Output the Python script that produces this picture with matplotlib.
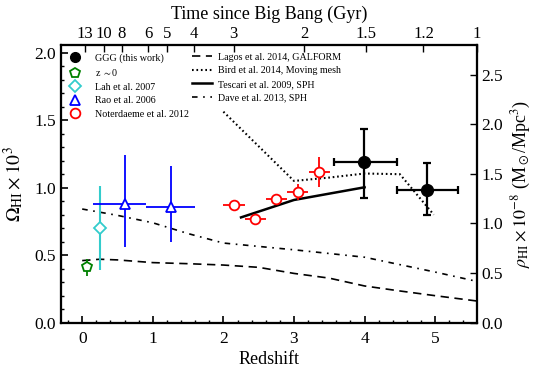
import numpy as np
import matplotlib
matplotlib.use("Agg")
import matplotlib.pyplot as plt
from matplotlib.lines import Line2D
from matplotlib.ticker import MultipleLocator

plt.rcParams['font.family'] = 'serif'
plt.rcParams['font.serif'] = ['Liberation Serif', 'DejaVu Serif']
plt.rcParams['mathtext.fontset'] = 'stix'
plt.rcParams['lines.scale_dashes'] = False

# ---------------- data ----------------
# GGG (this work)
ggg_z = [3.99, 4.88]
ggg_omega = [1.19, 0.98]
ggg_zlo = [0.43, 0.42]
ggg_zhi = [0.47, 0.44]
ggg_elo = [0.27, 0.18]
ggg_ehi = [0.245, 0.20]

# z ~ 0
z0_z = [0.07]
z0_omega = [0.415]
z0_elo = [0.07]
z0_ehi = [0.06]

# Lah et al. 2007
lah_z = [0.25]
lah_omega = [0.70]
lah_err = [0.31]

# Rao et al. 2006
rao_z = [0.61, 1.26]
rao_omega = [0.88, 0.855]
rao_zlo = [0.455, 0.35]
rao_zhi = [0.29, 0.34]
rao_elo = [0.32, 0.257]
rao_ehi = [0.36, 0.305]

# Noterdaeme et al. 2012
not_z = [2.15, 2.45, 2.75, 3.05, 3.36]
not_omega = [0.872, 0.766, 0.914, 0.968, 1.114]
not_zerr = [0.15, 0.15, 0.15, 0.15, 0.15]
not_err = [0.025, 0.025, 0.04, 0.062, 0.11]

# Simulations
lagos_z = [0.0, 0.25, 0.5, 1.0, 1.5, 2.0, 2.5, 3.0, 3.5, 4.0, 4.5, 5.0, 5.6]
lagos_omega = [0.46, 0.47, 0.465, 0.445, 0.437, 0.427, 0.41, 0.365, 0.33, 0.272, 0.235, 0.20, 0.16]

bird_z = [2.0, 3.0, 3.5, 4.0, 4.5, 4.98]
bird_omega = [1.563, 1.05, 1.075, 1.105, 1.10, 0.80]

tescari_z = [2.25, 3.0, 4.0]
tescari_omega = [0.78, 0.909, 1.003]

dave_z = [0.0, 0.5, 1.0, 1.5, 2.0, 3.0, 4.0, 5.0, 5.6]
dave_omega = [0.842, 0.795, 0.74, 0.66, 0.59, 0.54, 0.485, 0.375, 0.305]

# top axis tick labels (Gyr)
age_ticks = [13, 10, 8, 6, 5, 4, 3, 2, 1.5, 1.2, 1]
age_labels = ['13', '10', '8', '6', '5', '4', '3', '2', '1.5', '1.2', '1']

rho_ticks = [0.0, 0.5, 1.0, 1.5, 2.0, 2.5]

# cosmology (flat LCDM, H0=70, Om=0.3)
H0_gyr = 977.8 / 70.0
Om, OL = 0.3, 0.7
def z_of_age(t):
    t = np.asarray(t, dtype=float)
    arg = 1.5 * np.sqrt(OL) * t / H0_gyr
    return (np.sqrt(OL / Om) / np.sinh(arg)) ** (2.0 / 3.0) - 1.0

rho_factor = 1.36  # rho_crit (h=0.7) in 1e8 Msun/Mpc^3 per Omega*1e3

# ---------------- figure ----------------
fig = plt.figure(figsize=(5.4, 3.75), dpi=100)
ax = fig.add_axes([0.113, 0.1395, 0.770, 0.7405])

xmin, xmax = -0.30, 5.59
ymin, ymax = 0.0, 2.057

# model lines
l_lagos, = ax.plot(lagos_z, lagos_omega, color='k', lw=1.2, ls=(0, (6, 4)))
l_bird, = ax.plot(bird_z, bird_omega, color='k', lw=1.5, ls=(0, (1.2, 2.0)))
l_tes, = ax.plot(tescari_z, tescari_omega, color='k', lw=1.8, ls='-')
l_dave, = ax.plot(dave_z, dave_omega, color='k', lw=1.2, ls=(0, (4, 4, 1.2, 4)))

# data
ax.errorbar(z0_z, z0_omega, yerr=[z0_elo, z0_ehi], fmt='p', color='green',
            mfc='white', mec='green', ms=7, mew=1.3, elinewidth=1.3, capsize=0, zorder=5)
ax.errorbar(lah_z, lah_omega, yerr=lah_err, fmt='D', color='#33cccc',
            mfc='white', mec='#33cccc', ms=6, mew=1.3, elinewidth=1.5, capsize=0, zorder=5)
ax.errorbar(rao_z, rao_omega, xerr=[rao_zlo, rao_zhi], yerr=[rao_elo, rao_ehi], fmt='^',
            color='blue', mfc='white', mec='blue', ms=7, mew=1.3, elinewidth=1.3, capsize=0, zorder=5)
ax.errorbar(not_z, not_omega, xerr=not_zerr, yerr=not_err, fmt='o', color='red',
            mfc='white', mec='red', ms=7, mew=1.3, elinewidth=1.3, capsize=0, zorder=5)
ax.errorbar(ggg_z, ggg_omega, xerr=[ggg_zlo, ggg_zhi], yerr=[ggg_elo, ggg_ehi], fmt='o',
            color='k', ms=8.5, elinewidth=1.6, capsize=3, capthick=1.6, zorder=6)

ax.set_xlim(xmin, xmax)
ax.set_ylim(ymin, ymax)
ax.set_xlabel('Redshift', fontsize=13, labelpad=3)
ax.set_ylabel(r'$\Omega_{\rm HI}\times10^3$', fontsize=14, labelpad=6)
ax.xaxis.set_major_locator(MultipleLocator(1))
ax.xaxis.set_minor_locator(MultipleLocator(0.2))
ax.yaxis.set_major_locator(MultipleLocator(0.5))
ax.yaxis.set_minor_locator(MultipleLocator(0.1))
ax.yaxis.set_major_formatter(matplotlib.ticker.FormatStrFormatter('%.1f'))
ax.tick_params(which='both', direction='in', labelsize=12.5)
ax.tick_params(which='major', length=5, width=1.2)
ax.tick_params(which='minor', length=2.5, width=1.0)
ax.tick_params(axis='x', pad=6)
ax.tick_params(axis='y', right=False)
for s in ax.spines.values():
    s.set_linewidth(1.5)

# top axis
axt = ax.twiny()
axt.set_xlim(xmin, xmax)
axt.set_xticks(z_of_age(age_ticks))
axt.set_xticklabels(age_labels)
axt.tick_params(direction='in', length=5, width=1.0, labelsize=12, pad=2)
axt.set_xlabel('Time since Big Bang (Gyr)', fontsize=13, labelpad=5)

# right axis
axr = ax.twinx()
axr.set_ylim(ymin * rho_factor, ymax * rho_factor)
axr.set_yticks(rho_ticks)
axr.yaxis.set_major_formatter(matplotlib.ticker.FormatStrFormatter('%.1f'))
axr.tick_params(direction='in', length=5, width=1.0, labelsize=12.5)
axr.set_ylabel(r'$\rho_{\rm HI}\times10^{-8}$ (M$_\odot$/Mpc$^3$)', fontsize=13, labelpad=5)
for a in (axt, axr):
    for s in a.spines.values():
        s.set_linewidth(1.5)

# legends
h1 = [
    Line2D([], [], ls='none', marker='o', color='k', ms=7),
    Line2D([], [], ls='none', marker='p', mfc='white', mec='green', ms=7, mew=1.3),
    Line2D([], [], ls='none', marker='D', mfc='white', mec='#33cccc', ms=6, mew=1.3),
    Line2D([], [], ls='none', marker='^', mfc='white', mec='blue', ms=7, mew=1.3),
    Line2D([], [], ls='none', marker='o', mfc='white', mec='red', ms=7, mew=1.3),
]
lab1 = ['GGG (this work)', r'z $\sim$0', 'Lah et al. 2007', 'Rao et al. 2006', 'Noterdaeme et al. 2012']
leg1 = ax.legend(h1, lab1, loc='upper left', bbox_to_anchor=(0.0, 1.0), frameon=False,
                 fontsize=7.2, handlelength=1.2, handletextpad=1.4, labelspacing=0.45,
                 borderaxespad=0.4)
ax.add_artist(leg1)
h2 = [l_lagos, l_bird, l_tes, l_dave]
lab2 = ['Lagos et al. 2014, GALFORM', 'Bird et al. 2014, Moving mesh',
        'Tescari et al. 2009, SPH', 'Dave et al. 2013, SPH']
ax.legend(h2, lab2, loc='upper left', bbox_to_anchor=(0.295, 1.0), frameon=False,
          fontsize=7.2, handlelength=2.0, handletextpad=0.6, labelspacing=0.45,
          borderaxespad=0.4)

fig.savefig('out.png', dpi=100)
